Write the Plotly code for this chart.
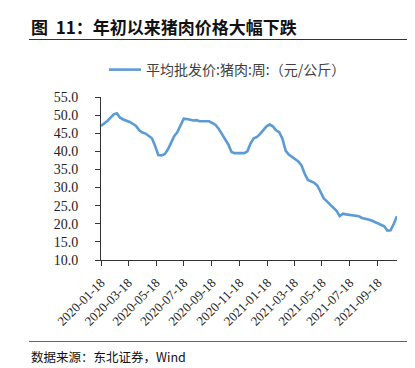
import plotly.graph_objects as go
import pandas as pd

start_date = "2020-01-18"
prices = [
    47.0, 47.6, 48.4, 49.3, 50.2, 50.5, 49.3, 48.8, 48.5, 48.1,
    47.6, 47.0, 45.8, 45.2, 44.9, 44.3, 43.6, 41.5, 39.0, 38.9,
    39.2, 40.5, 42.3, 44.2, 45.3, 47.2, 49.0, 48.9, 48.7, 48.5,
    48.6, 48.3, 48.3, 48.3, 48.3, 47.8, 47.3, 46.2, 44.8, 43.3,
    41.9, 39.8, 39.5, 39.5, 39.5, 39.5, 40.0, 42.2, 43.6, 44.0,
    44.8, 45.8, 46.9, 47.4, 46.9, 45.8, 45.3, 43.5, 40.2, 39.1,
    38.5, 37.9, 37.2, 36.1, 33.8, 32.1, 31.7, 31.3, 30.5, 28.7,
    27.0, 26.2, 25.4, 24.6, 23.6, 22.1, 22.8, 22.6, 22.5, 22.3,
    22.1, 22.1, 21.6, 21.5, 21.2, 20.9, 20.5, 20.1, 19.7, 19.3,
    18.1, 18.2, 20.0, 22.1,
]
dates = pd.date_range(start_date, periods=len(prices), freq="7D")

tick_labels = ["2020-01-18", "2020-03-18", "2020-05-18", "2020-07-18", "2020-09-18",
               "2020-11-18", "2021-01-18", "2021-03-18", "2021-05-18", "2021-07-18",
               "2021-09-18"]
series_name = "平均批发价:猪肉:周:（元/公斤）"
title_text = "图  11：年初以来猪肉价格大幅下跌"
source_text = "数据来源：东北证券，Wind"

W, H = 415, 368
L, R, T, B = 93, 26, 89, 116
pw, ph = W - L - R, H - T - B


def px(x):
    return (x - L) / pw


def py(y):
    return (H - B - y) / ph


fig = go.Figure()
fig.add_trace(go.Scatter(x=dates, y=prices, mode="lines", name=series_name,
                         line=dict(color="#5B9BD5", width=2.6)))

serif = "Liberation Serif, DejaVu Serif, serif"
cjk = "Noto Sans CJK SC"

fig.update_layout(
    width=W, height=H,
    margin=dict(l=L, r=R, t=T, b=B, autoexpand=False),
    paper_bgcolor="white", plot_bgcolor="white",
    showlegend=True,
    legend=dict(x=96 / W, y=1 - 62 / H, xref="container", yref="container",
                xanchor="left", yanchor="middle", orientation="h",
                itemwidth=32, font=dict(family=cjk, size=14, color="#404040")),
    xaxis=dict(range=[dates[0], dates[-1]], tickvals=tick_labels, ticktext=tick_labels,
               tickangle=-45, showgrid=False, showline=True, linecolor="#333", linewidth=1,
               ticks="outside", ticklen=5, tickcolor="#333", automargin=False,
               ticklabelstandoff=4,
               tickfont=dict(family=serif, size=13, color="#222")),
    yaxis=dict(range=[10, 55], dtick=5, tickformat=".1f", showgrid=False, showline=True,
               linecolor="#333", linewidth=1, ticks="outside", ticklen=5, tickcolor="#333",
               ticklabelstandoff=14,
               zeroline=False, automargin=False, tickfont=dict(family=serif, size=14, color="#222")),
)

fig.add_annotation(text="<b>" + title_text + "</b>", xref="paper", yref="paper",
                   x=px(21), y=py(18), xanchor="left", yanchor="middle", showarrow=False,
                   font=dict(family=cjk, size=17, color="#111"))
fig.add_shape(type="line", xref="paper", yref="paper", x0=px(21), x1=px(403), y0=py(31.5), y1=py(31.5),
              line=dict(color="#333", width=1.2))
fig.add_shape(type="line", xref="paper", yref="paper", x0=px(21), x1=px(403), y0=py(333.5), y1=py(333.5),
              line=dict(color="#666", width=1.2))
fig.add_annotation(text=source_text, xref="paper", yref="paper",
                   x=px(21), y=py(348), xanchor="left", yanchor="middle", showarrow=False,
                   font=dict(family=cjk, size=12.5, color="#111"))

fig.write_html("out.html")
